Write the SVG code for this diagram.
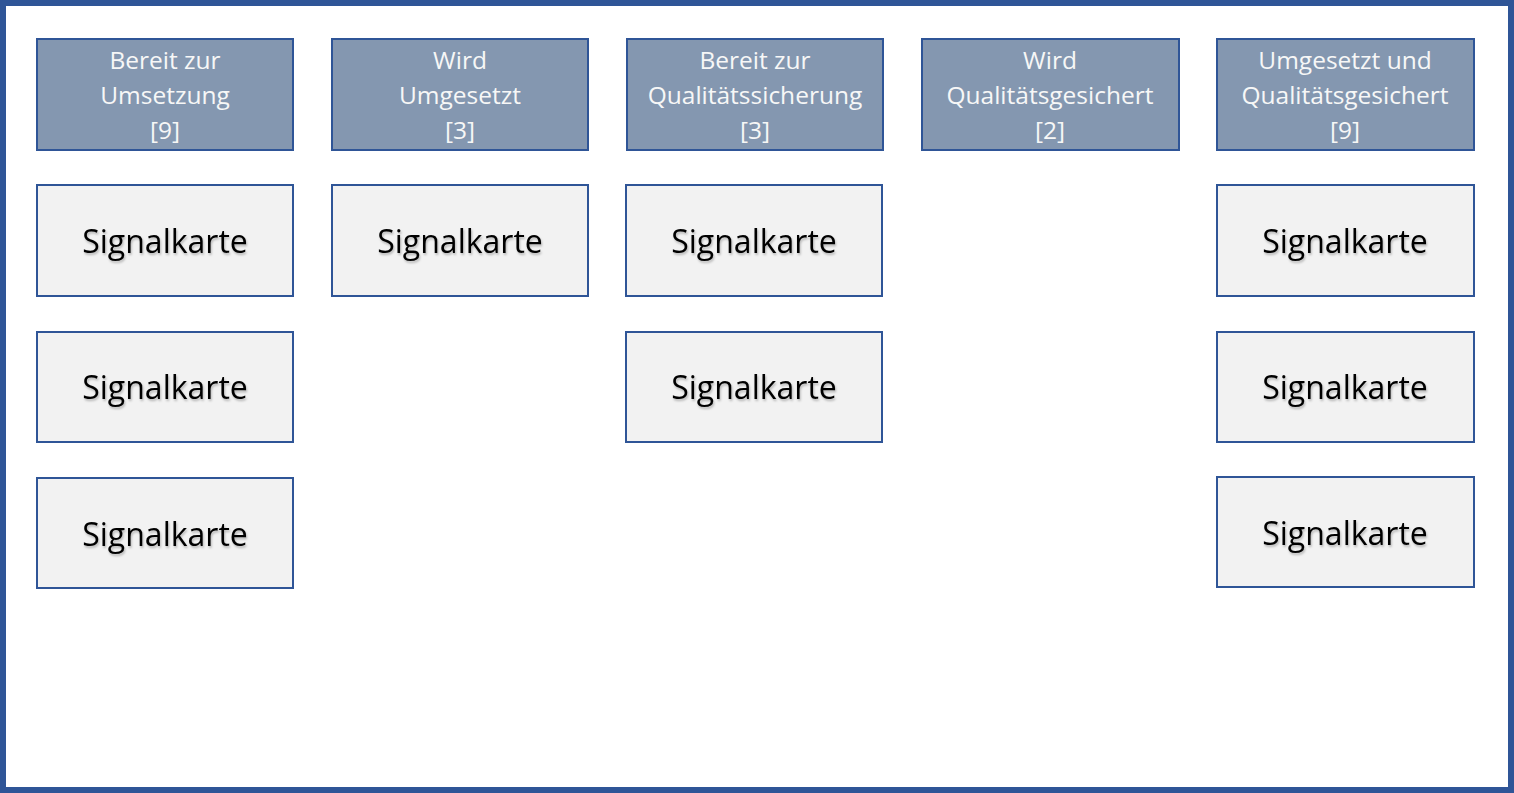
<svg xmlns="http://www.w3.org/2000/svg" width="1514" height="793" viewBox="0 0 1514 793">
<style>
.frame{fill:#FFFFFF;stroke:#2F5597;stroke-width:6}
.hdr rect{fill:#8497B0;stroke:#2F5597;stroke-width:2}
.hdr text{fill:#F7F7F7;font-family:"Open Sans","Noto Sans",sans-serif;font-size:24.5px;text-anchor:middle}
.card rect{fill:#F2F2F2;stroke:#2F5597;stroke-width:2}
.card text{fill:#000000;font-family:"Open Sans","Noto Sans",sans-serif;font-size:32px;text-anchor:middle;filter:url(#ts)}
</style>
<defs>
<filter id="ts" x="-10%" y="-30%" width="120%" height="160%">
<feDropShadow dx="1" dy="2" stdDeviation="1" flood-color="#000000" flood-opacity="0.25"/>
</filter>
</defs>
<rect class="frame" x="3" y="3" width="1508" height="787"/>
<g id="connectors"></g>
<g id="h1" class="hdr"><rect x="37" y="39" width="256" height="111"/><text x="165" y="69">Bereit zur</text><text x="165" y="104">Umsetzung</text><text x="165" y="139">[9]</text></g>
<g id="h2" class="hdr"><rect x="332" y="39" width="256" height="111"/><text x="460" y="69">Wird</text><text x="460" y="104">Umgesetzt</text><text x="460" y="139">[3]</text></g>
<g id="h3" class="hdr"><rect x="627" y="39" width="256" height="111"/><text x="755" y="69">Bereit zur</text><text x="755" y="104">Qualitätssicherung</text><text x="755" y="139">[3]</text></g>
<g id="h4" class="hdr"><rect x="922" y="39" width="257" height="111"/><text x="1050" y="69">Wird</text><text x="1050" y="104">Qualitätsgesichert</text><text x="1050" y="139">[2]</text></g>
<g id="h5" class="hdr"><rect x="1217" y="39" width="257" height="111"/><text x="1345" y="69">Umgesetzt und</text><text x="1345" y="104">Qualitätsgesichert</text><text x="1345" y="139">[9]</text></g>
<g id="c1a" class="card"><rect x="37" y="185" width="256" height="111"/><text x="165" y="253">Signalkarte</text></g>
<g id="c1b" class="card"><rect x="37" y="332" width="256" height="110"/><text x="165" y="399">Signalkarte</text></g>
<g id="c1c" class="card"><rect x="37" y="478" width="256" height="110"/><text x="165" y="546">Signalkarte</text></g>
<g id="c2a" class="card"><rect x="332" y="185" width="256" height="111"/><text x="460" y="253">Signalkarte</text></g>
<g id="c3a" class="card"><rect x="626" y="185" width="256" height="111"/><text x="754" y="253">Signalkarte</text></g>
<g id="c3b" class="card"><rect x="626" y="332" width="256" height="110"/><text x="754" y="399">Signalkarte</text></g>
<g id="c5a" class="card"><rect x="1217" y="185" width="257" height="111"/><text x="1345" y="253">Signalkarte</text></g>
<g id="c5b" class="card"><rect x="1217" y="332" width="257" height="110"/><text x="1345" y="399">Signalkarte</text></g>
<g id="c5c" class="card"><rect x="1217" y="477" width="257" height="110"/><text x="1345" y="545">Signalkarte</text></g>
</svg>
